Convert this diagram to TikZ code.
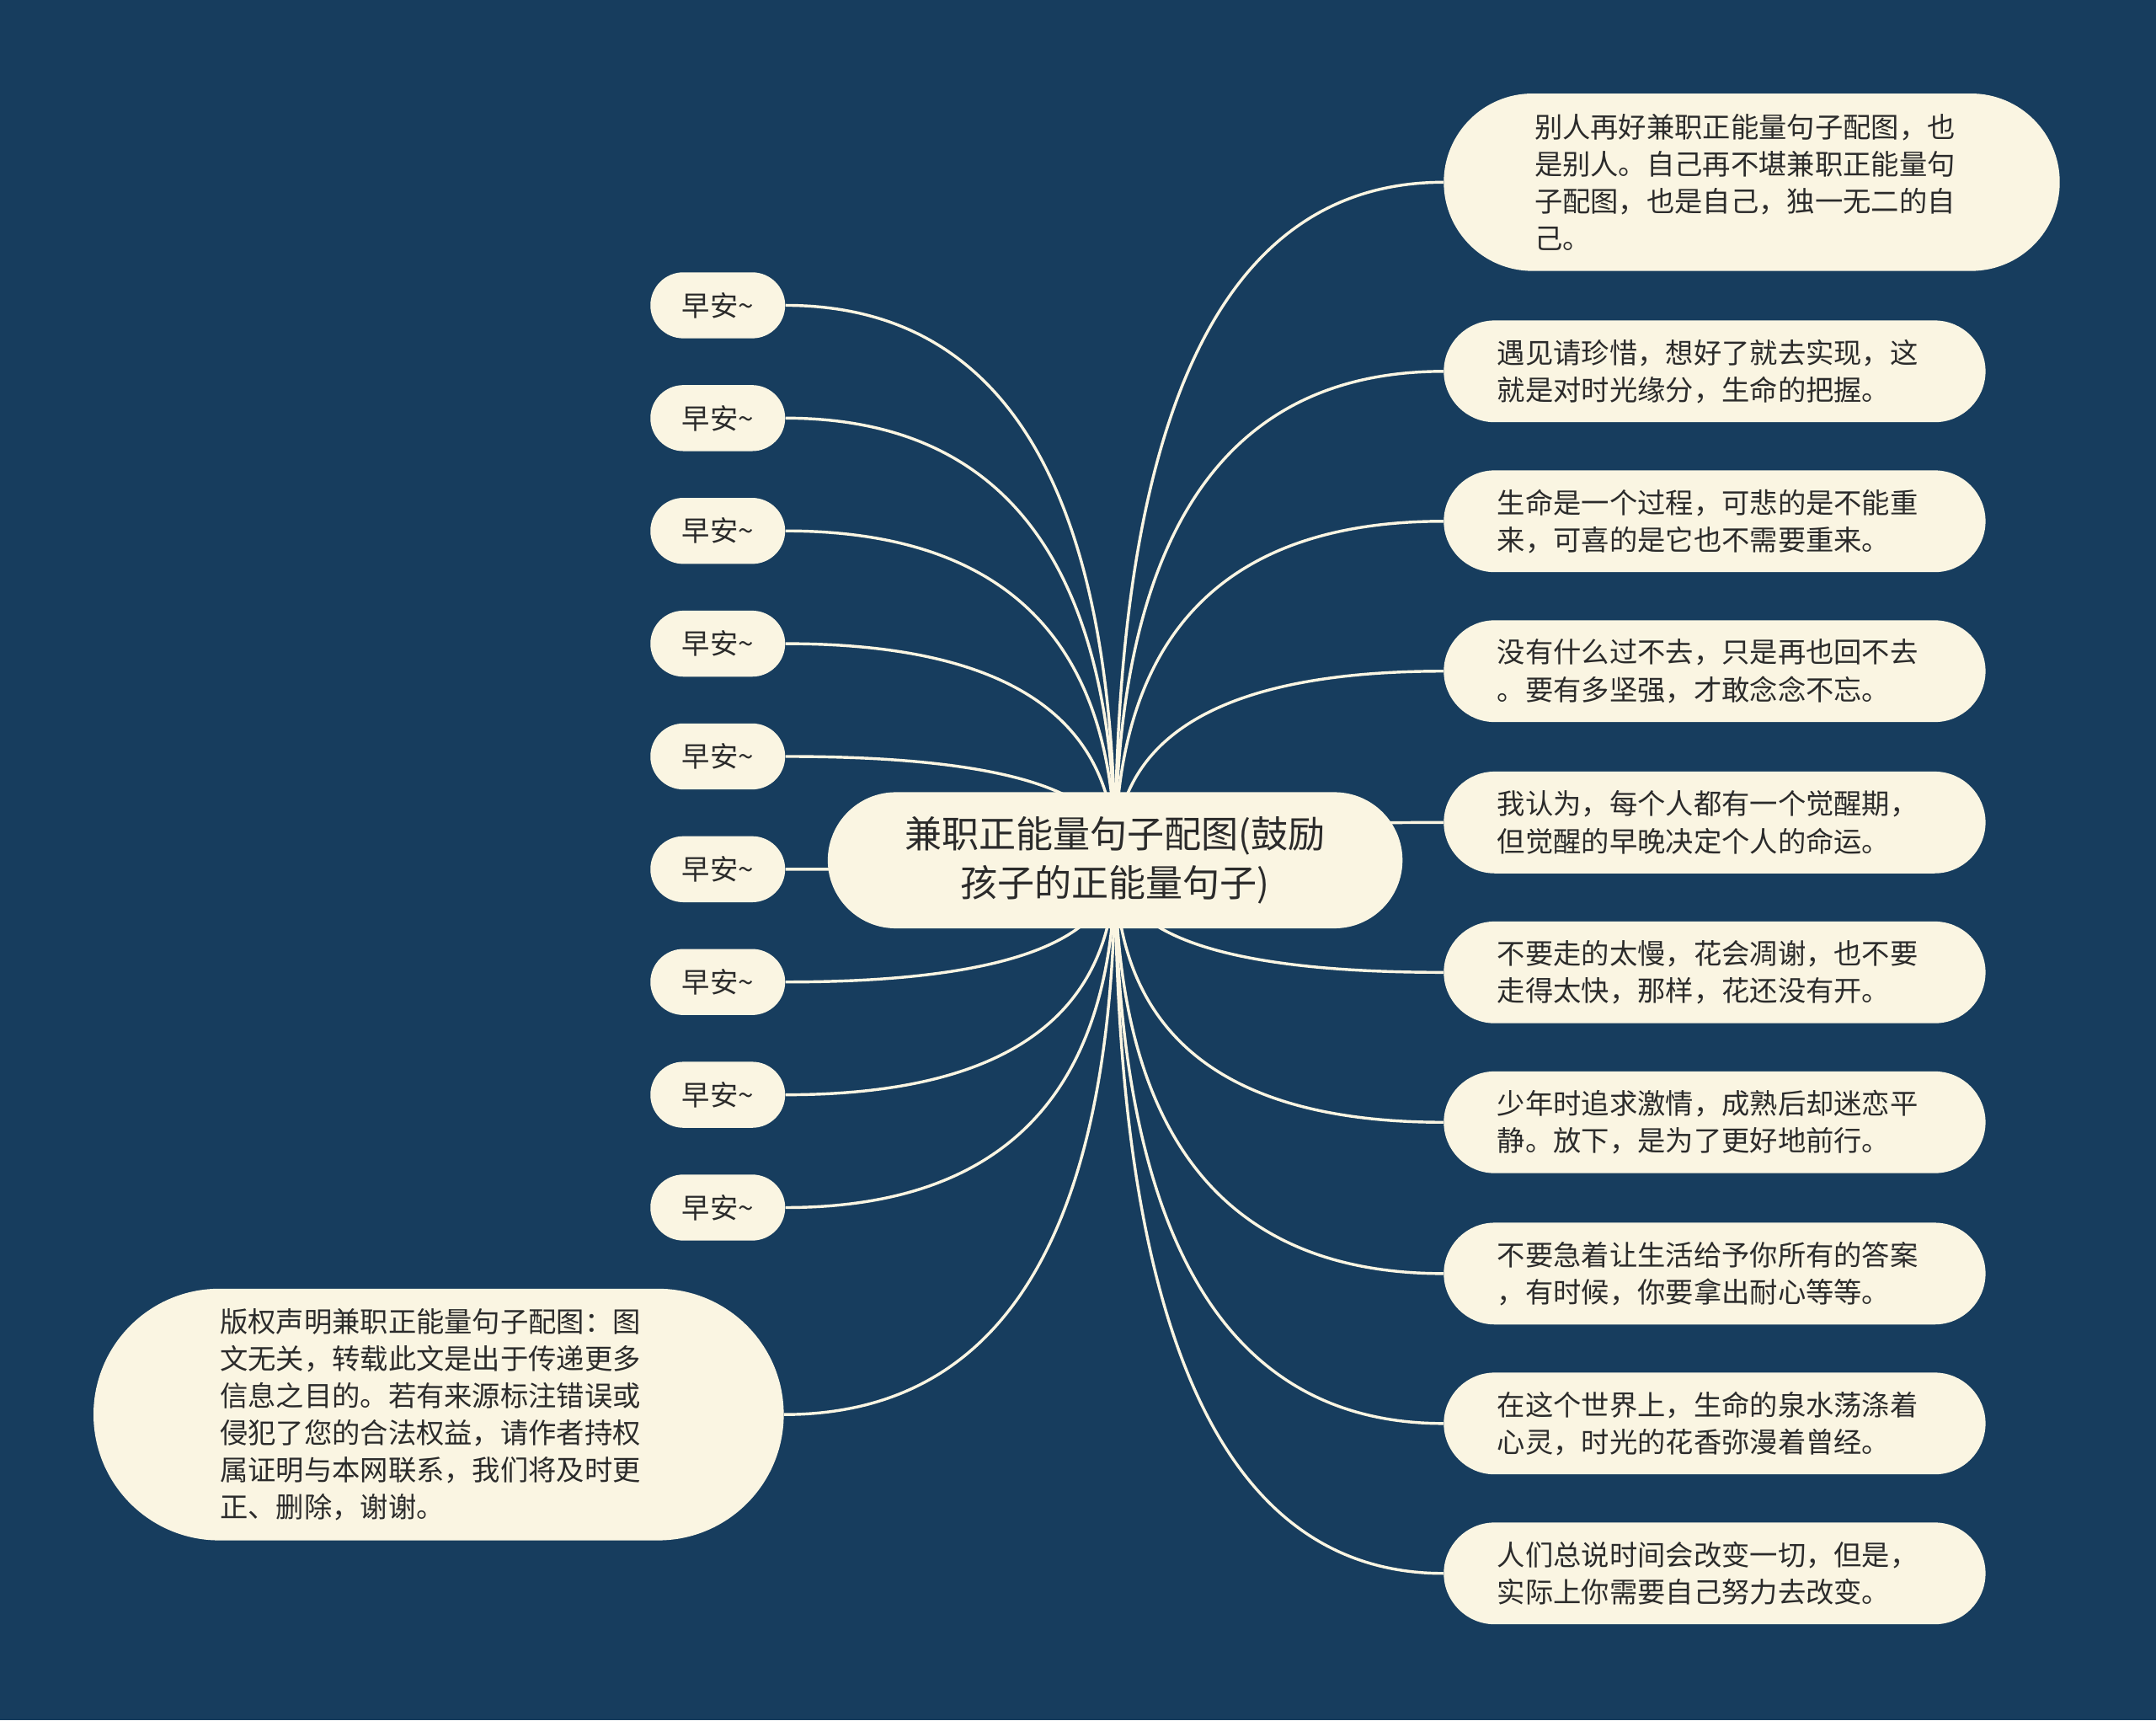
\documentclass[tikz,border=0pt]{standalone}
\usepackage{fontspec}
\setmainfont{Noto Sans CJK SC}
\usetikzlibrary{calc}

\definecolor{bgblue}{HTML}{173D5E}
\definecolor{cream}{HTML}{FAF5E2}
\definecolor{inkgray}{HTML}{2B2B2B}

\pgfdeclarelayer{back}
\pgfdeclarelayer{edges}
\pgfsetlayers{back,edges,main}

\tikzset{
  bubble/.style={fill=cream, text=inkgray, inner sep=0pt},
  rootbox/.style={bubble, minimum width=418pt, minimum height=99pt, rounded corners=49.5pt,
    align=center, font=\fontsize{27pt}{36pt}\selectfont},
  leafbox/.style={bubble, minimum width=394pt, minimum height=74pt, rounded corners=37pt,
    text width=316pt, align=left, font=\fontsize{20.4pt}{27pt}\selectfont},
  bigbox/.style={leafbox, minimum width=448pt, minimum height=129pt, rounded corners=64.5pt},
  notebox/.style={leafbox, minimum width=502pt, minimum height=183pt, rounded corners=91.5pt, text width=318pt},
  hellobox/.style={bubble, minimum width=98pt, minimum height=48pt, rounded corners=24pt,
    font=\fontsize{20.4pt}{27pt}\selectfont},
  branchline/.style={draw=cream, line width=2.1pt},
}

\begin{document}
\begin{tikzpicture}[x=1pt, y=-1pt]
  % 背景
  \begin{pgfonlayer}{back}
    \fill[bgblue] (0,0) rectangle (1568,1251);
  \end{pgfonlayer}

  % 中心
  \node[rootbox] (root) at (811,625.5) {兼职正能量句子配图(鼓励\\孩子的正能量句子)};

  % 右側
  \node[bigbox] (r1) at (1274,132.5) {别人再好兼职正能量句子配图，也\\是别人。自己再不堪兼职正能量句\\子配图，也是自己，独一无二的自\\己。};
  \node[leafbox] (r2) at (1247,270) {遇见请珍惜，想好了就去实现，这\\就是对时光缘分，生命的把握。};
  \node[leafbox] (r3) at (1247,379) {生命是一个过程，可悲的是不能重\\来，可喜的是它也不需要重来。};
  \node[leafbox] (r4) at (1247,488) {没有什么过不去，只是再也回不去\\。要有多坚强，才敢念念不忘。};
  \node[leafbox] (r5) at (1247,598) {我认为，每个人都有一个觉醒期，\\但觉醒的早晚决定个人的命运。};
  \node[leafbox] (r6) at (1247,707) {不要走的太慢，花会凋谢，也不要\\走得太快，那样，花还没有开。};
  \node[leafbox] (r7) at (1247,816) {少年时追求激情，成熟后却迷恋平\\静。放下，是为了更好地前行。};
  \node[leafbox] (r8) at (1247,926) {不要急着让生活给予你所有的答案\\，有时候，你要拿出耐心等等。};
  \node[leafbox] (r9) at (1247,1035) {在这个世界上，生命的泉水荡涤着\\心灵，时光的花香弥漫着曾经。};
  \node[leafbox] (r10) at (1247,1144) {人们总说时间会改变一切，但是，\\实际上你需要自己努力去改变。};

  % 左側
  \foreach \i in {1,...,9}
    \node[hellobox] (l\i) at (522,{222+82*(\i-1)}) {早安\textasciitilde};
  \node[notebox] (cp) at (319,1028.5) {版权声明兼职正能量句子配图：图\\文无关，转载此文是出于传递更多\\信息之目的。若有来源标注错误或\\侵犯了您的合法权益，请作者持权\\属证明与本网联系，我们将及时更\\正、删除，谢谢。};

  % 線
  \begin{pgfonlayer}{edges}
    \foreach \n in {r1,r2,r3,r4,r5,r6,r7,r8,r9,r10}
      \draw[branchline] (root.center) .. controls ($(root.center)!0.667!(root.center |- \n.west)$)
        and ($(\n.west)!0.667!(root.center |- \n.west)$) .. (\n.west);
    \foreach \n in {l1,l2,l3,l4,l5,l6,l7,l8,l9,cp}
      \draw[branchline] (root.center) .. controls ($(root.center)!0.667!(root.center |- \n.east)$)
        and ($(\n.east)!0.667!(root.center |- \n.east)$) .. (\n.east);
  \end{pgfonlayer}
\end{tikzpicture}
\end{document}
